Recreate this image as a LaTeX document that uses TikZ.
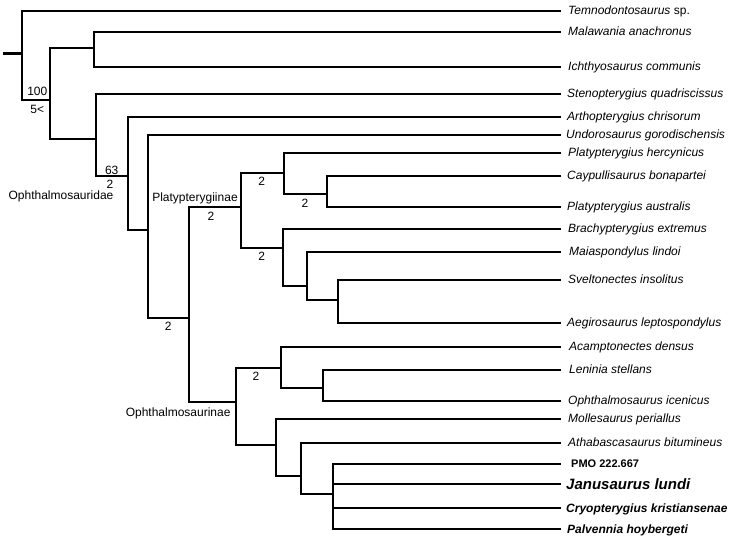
\documentclass[tikz,border=0pt]{standalone}
\usepackage{fontspec}
\setmainfont{Liberation Sans}
\begin{document}
\begin{tikzpicture}[x=1pt,y=-1pt,
  br/.style={line width=1.9pt},
  stub/.style={line width=3pt},
  leaf/.style={anchor=base west, inner sep=0pt, font=\fontsize{12}{14}\selectfont\itshape},
  boldleaf/.style={anchor=base west, inner sep=0pt, font=\fontsize{12}{14}\selectfont\bfseries\itshape},
  num/.style={inner sep=0pt, font=\fontsize{12}{14}\selectfont},
  clade/.style={inner sep=0pt, anchor=base, font=\fontsize{12}{14}\selectfont}]
\useasboundingbox (0,0) rectangle (732,536);
% leaf ends
\coordinate (e1) at (561,11);
\coordinate (e2) at (561,32.3);
\coordinate (e3) at (561,67.3);
\coordinate (e4) at (561,93.7);
\coordinate (e5) at (561,116.7);
\coordinate (e6) at (561,135);
\coordinate (e7) at (561,153.3);
\coordinate (e8) at (561,175.7);
\coordinate (e9) at (561,207.3);
\coordinate (e10) at (561,229.3);
\coordinate (e11) at (561,251.7);
\coordinate (e12) at (561,280);
\coordinate (e13) at (561,322.7);
\coordinate (e14) at (561,346.7);
\coordinate (e15) at (561,370);
\coordinate (e16) at (561,401);
\coordinate (e17) at (561,419.3);
\coordinate (e18) at (561,443.3);
\coordinate (e19) at (561,464);
\coordinate (e20) at (561,484.3);
\coordinate (e21) at (561,508.3);
\coordinate (e22) at (561,529.3);
% leaf labels
\node[leaf] (t1) at (568,14.5) {Temnodontosaurus \textup{sp.}};
\node[leaf] (t2) at (568,35.8) {Malawania anachronus};
\node[leaf] (t3) at (568,70.8) {Ichthyosaurus communis};
\node[leaf] (t4) at (567,97.2) {Stenopterygius quadriscissus};
\node[leaf] (t5) at (567,120.2) {Arthopterygius chrisorum};
\node[leaf] (t6) at (566,138.5) {Undorosaurus gorodischensis};
\node[leaf] (t7) at (568,156.8) {Platypterygius hercynicus};
\node[leaf] (t8) at (567,179.2) {Caypullisaurus bonapartei};
\node[leaf] (t9) at (567,210.8) {Platypterygius australis};
\node[leaf] (t10) at (568,232.8) {Brachypterygius extremus};
\node[leaf] (t11) at (569,255.2) {Maiaspondylus lindoi};
\node[leaf] (t12) at (568,283.5) {Sveltonectes insolitus};
\node[leaf] (t13) at (567,326.2) {Aegirosaurus leptospondylus};
\node[leaf] (t14) at (569,350.2) {Acamptonectes densus};
\node[leaf] (t15) at (569,373.5) {Leninia stellans};
\node[leaf] (t16) at (568,404.5) {Ophthalmosaurus icenicus};
\node[leaf] (t17) at (568,422.8) {Mollesaurus periallus};
\node[leaf] (t18) at (568,446.8) {Athabascasaurus bitumineus};
\node[inner sep=0pt, anchor=base west, font=\fontsize{11}{13}\selectfont\bfseries] (t19) at (571,467.8) {PMO 222.667};
\node[inner sep=0pt, anchor=base west, font=\fontsize{15}{17}\selectfont\bfseries\itshape] (t20) at (566,489.5) {Janusaurus lundi};
\node[boldleaf] (t21) at (566,512) {Cryopterygius kristiansenae};
\node[boldleaf] (t22) at (567,533) {Palvennia hoybergeti};
% internal nodes
\coordinate (root) at (3.3,53.3);
\coordinate (R) at (21.7,53.3);
\coordinate (A) at (50,100);
\coordinate (B) at (94.3,48.3);
\coordinate (C) at (95.7,139);
\coordinate (D) at (127.7,176);
\coordinate (E) at (148.3,230);
\coordinate (F) at (189,317.7);
\coordinate (G) at (240.7,207.3);
\coordinate (I) at (284,172.7);
\coordinate (K) at (327,194);
\coordinate (J) at (282.7,247.7);
\coordinate (L) at (306.7,286);
\coordinate (M) at (338.3,300);
\coordinate (H) at (236,401.7);
\coordinate (N) at (281,367.7);
\coordinate (P) at (323.3,388.3);
\coordinate (O) at (276,445);
\coordinate (Q) at (300.7,475.7);
\coordinate (S) at (333.3,494.3);
% branches
\draw[stub] (root) -- (R);
\draw[br] (e1) -| (R) |- (A);
\draw[br] (B) -| (A) |- (C);
\draw[br] (e2) -| (B) |- (e3);
\draw[br] (e4) -| (C) |- (D);
\draw[br] (e5) -| (D) |- (E);
\draw[br] (e6) -| (E) |- (F);
\draw[br] (G) -| (F) |- (H);
\draw[br] (I) -| (G) |- (J);
\draw[br] (e7) -| (I) |- (K);
\draw[br] (e8) -| (K) |- (e9);
\draw[br] (e10) -| (J) |- (L);
\draw[br] (e11) -| (L) |- (M);
\draw[br] (e12) -| (M) |- (e13);
\draw[br] (N) -| (H) |- (O);
\draw[br] (e14) -| (N) |- (P);
\draw[br] (e15) -| (P) |- (e16);
\draw[br] (e17) -| (O) |- (Q);
\draw[br] (e18) -| (Q) |- (S);
\draw[br] (e19) -| (S) |- (e22);
\draw[br] (S |- e20) -- (e20);
\draw[br] (S |- e21) -- (e21);
% support values and clade names
\node[num] (s1) at (37.3,91.7) {100};
\node[num] (s2) at (37.3,109.3) {5<};
\node[num] (s3) at (111.7,170) {63};
\node[num] (s4) at (110,184) {2};
\node[clade] (c1) at (61,199) {Ophthalmosauridae};
\node[clade] (c2) at (195,201) {Platypterygiinae};
\node[num] (s5) at (211,216.7) {2};
\node[num] (s6) at (168.3,326.7) {2};
\node[num] (s7) at (261.7,181.7) {2};
\node[num] (s8) at (305,203.3) {2};
\node[num] (s9) at (261.7,256.7) {2};
\node[num] (s10) at (256,376.7) {2};
\node[clade, anchor=base east] (c3) at (230.7,416) {Ophthalmosaurinae};
\end{tikzpicture}
\end{document}
